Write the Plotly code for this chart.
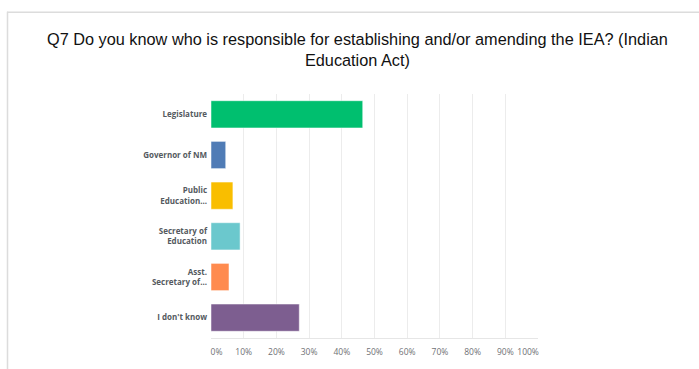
import plotly.graph_objects as go

categories = ["Legislature", "Governor of NM", "Public<br>Education...", "Secretary of<br>Education",
              "Asst.<br>Secretary of...", "I don't know"]
values = [46.4, 4.5, 6.7, 8.9, 5.5, 27.0]
colors = ["#00BF6F", "#507CB6", "#F9BE00", "#6BC8CD", "#FF8B4F", "#7D5E90"]
tick_vals = [0, 10, 20, 30, 40, 50, 60, 70, 80, 90, 100]
tick_text = ["0%", "10%", "20%", "30%", "40%", "50%", "60%", "70%", "80%", "90%", "100%"]

W, H = 699, 369
L, R, T, B = 211, 161, 94, 29
pw, ph = W - L - R, H - T - B

NB = "\u00a0"
shown_ticks = list(tick_text)
shown_ticks[0] = NB * 5 + shown_ticks[0]
shown_ticks[-1] = shown_ticks[-1] + NB * 9

fig = go.Figure(go.Bar(
    x=values, y=categories, orientation="h",
    marker=dict(color=colors, line=dict(color="rgba(255,255,255,0.5)", width=1)),
    hoverinfo="x+y",
))

def px_x(x):
    return (x - L) / pw

def px_y(y):
    return (H - B - y) / ph

fig.update_layout(
    width=W, height=H,
    margin=dict(l=L, r=R, t=T, b=B, pad=0),
    paper_bgcolor="white", plot_bgcolor="white",
    bargap=0.33,
    showlegend=False,
    xaxis=dict(range=[0, 100], tickvals=tick_vals, ticktext=shown_ticks,
               showgrid=True, gridcolor="#ececec", gridwidth=1,
               zeroline=False, showline=True, linecolor="#e6e6e6", linewidth=1,
               tickfont=dict(family="Open Sans", size=8.5, color="#6f7175"),
               ticks="", ticklabelstandoff=6, fixedrange=True),
    yaxis=dict(autorange="reversed", showgrid=False, zeroline=False,
               showline=False, ticks="",
               tickfont=dict(family="Open Sans", size=8, color="#555a60", weight="bold"),
               ticklabelstandoff=3, fixedrange=True),
    annotations=[dict(
        text="Q7 Do you know who is responsible for establishing and/or amending the IEA? (Indian<br>Education Act)",
        xref="paper", yref="paper", x=px_x(357), y=px_y(49), xanchor="center", yanchor="middle",
        showarrow=False, align="center",
        font=dict(family="Liberation Sans, Arial", size=16.3, color="#111111"),
    )],
    shapes=[
        dict(type="line", xref="paper", yref="paper", x0=px_x(7), x1=px_x(705),
             y0=px_y(11.5), y1=px_y(11.5), line=dict(color="#dcdcdc", width=1.5)),
        dict(type="line", xref="paper", yref="paper", x0=px_x(7.5), x1=px_x(7.5),
             y0=px_y(11), y1=px_y(375), line=dict(color="#dcdcdc", width=1.5)),
    ],
)

fig.write_html("out.html")
